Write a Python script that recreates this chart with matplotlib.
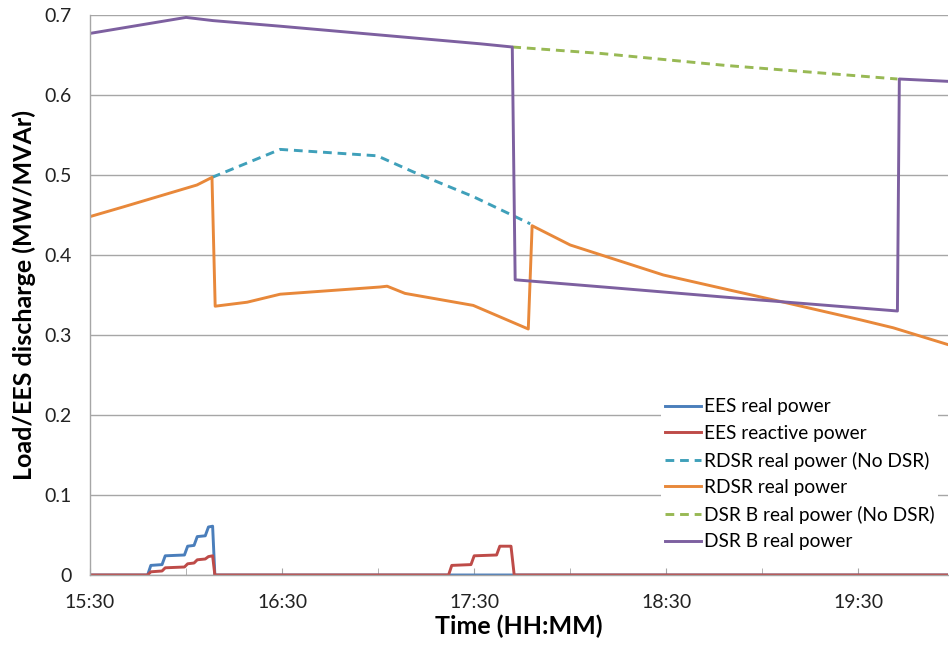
"""EES / DSR discharge profile, 15:30-20:00 (PNG)."""

import matplotlib

matplotlib.use("Agg")
import matplotlib.pyplot as plt
from matplotlib.ticker import FuncFormatter, MultipleLocator

plt.rcParams["font.family"] = ["Lato", "DejaVu Sans"]

# time axis: minutes after 15:30
START_H, START_M = 15, 30
X_MAX = 268

ees_p_t = [0, 18, 19, 22.5, 23.5, 29.5, 30.5, 32.5, 33.5, 36, 37, 38.3, 39, 268]
ees_p_v = [0, 0, 0.012, 0.013, 0.024, 0.025, 0.036, 0.037, 0.048, 0.049, 0.060, 0.061, 0, 0]

ees_q_t = [0, 18, 19, 22.5, 23.5, 29.5, 30.5, 32.5, 33.5, 36, 37, 38.3, 39,
           112, 113, 119, 120, 127, 128, 131.5, 132.5, 268]
ees_q_v = [0, 0, 0.004, 0.005, 0.009, 0.010, 0.014, 0.015, 0.019, 0.020, 0.023, 0.024, 0,
           0, 0.012, 0.013, 0.024, 0.025, 0.036, 0.036, 0, 0]

rdsr_nodsr_t = [38.1, 59.4, 89.7, 100.9, 119.7, 137.5]
rdsr_nodsr_v = [0.497, 0.532, 0.524, 0.504, 0.473, 0.439]

rdsr_t = [0, 10.3, 33.4, 38.1, 39.1, 49.1, 59.4, 90.6, 92.8, 98.4, 119.7, 136.9,
          138.1, 150, 179.1, 200, 215.6, 240.6, 250.9, 268.4]
rdsr_v = [0.448, 0.460, 0.4875, 0.497, 0.336, 0.341, 0.351, 0.360, 0.361, 0.352, 0.337, 0.3075,
          0.4366, 0.4125, 0.375, 0.356, 0.342, 0.319, 0.309, 0.2875]

dsrb_nodsr_t = [131.9, 159.4, 198.4, 252.2]
dsrb_nodsr_v = [0.660, 0.652, 0.637, 0.620]

dsrb_t = [0, 30, 38.4, 59.4, 90.6, 121.9, 131.9, 132.8, 163.4, 205.3, 252.2, 252.8, 268.4]
dsrb_v = [0.677, 0.697, 0.693, 0.686, 0.675, 0.664, 0.660, 0.369, 0.359, 0.345, 0.330, 0.620, 0.617]


def _hhmm(x, pos=None):
    tot = START_H * 60 + START_M + int(round(x))
    return f"{tot // 60}:{tot % 60:02d}"


fig = plt.figure(figsize=(9.49, 6.45), dpi=100)
ax = fig.add_axes([90 / 949, 70 / 645, 858 / 949, 560 / 645])

lw = 2.1
ax.plot(ees_p_t, ees_p_v, color="#4A7EBB", lw=lw, label="EES real power")
ax.plot(ees_q_t, ees_q_v, color="#BE4B48", lw=lw, label="EES reactive power")
ax.plot(rdsr_nodsr_t, rdsr_nodsr_v, color="#3FA0BA", lw=lw, dashes=(3, 2),
        label="RDSR real power (No DSR)")
ax.plot(rdsr_t, rdsr_v, color="#E8883A", lw=lw, label="RDSR real power")
ax.plot(dsrb_nodsr_t, dsrb_nodsr_v, color="#98B954", lw=lw, dashes=(3, 2),
        label="DSR B real power (No DSR)")
ax.plot(dsrb_t, dsrb_v, color="#7D60A0", lw=lw, label="DSR B real power")

ax.set_xlim(0, X_MAX)
ax.set_ylim(0, 0.7)
ax.yaxis.set_major_locator(MultipleLocator(0.1))
ax.yaxis.set_major_formatter(FuncFormatter(lambda v, p: f"{v:.1f}".rstrip("0").rstrip(".") if v else "0"))
ax.xaxis.set_major_locator(MultipleLocator(60))
ax.xaxis.set_minor_locator(MultipleLocator(30))
ax.xaxis.set_major_formatter(FuncFormatter(_hhmm))

ax.grid(True, axis="y", color="#A6A6A6", lw=1)
ax.set_axisbelow(True)
for s in ("top", "right"):
    ax.spines[s].set_visible(False)
for s in ("left", "bottom"):
    ax.spines[s].set_color("#A6A6A6")
    ax.spines[s].set_linewidth(1)

ax.tick_params(axis="y", length=0, labelsize=14, pad=13, labelcolor="#222222")
ax.tick_params(axis="x", which="both", direction="in", length=5, color="#A6A6A6",
               labelsize=14, pad=14, labelcolor="#222222")

ax.set_xlabel("Time (HH:MM)", fontsize=18, fontweight="bold", labelpad=2)
ax.set_ylabel("Load/EES discharge (MW/MVAr)", fontsize=18, fontweight="bold", labelpad=6)

leg = ax.legend(loc="lower right", bbox_to_anchor=(1.0, 0.02), fontsize=13.8, frameon=True,
                handlelength=1.9, handletextpad=0.15, labelspacing=0.5, borderpad=0.2)
leg.get_frame().set_edgecolor("none")
leg.get_frame().set_facecolor("white")
leg.get_frame().set_alpha(1)

fig.savefig("out.png", dpi=100)
